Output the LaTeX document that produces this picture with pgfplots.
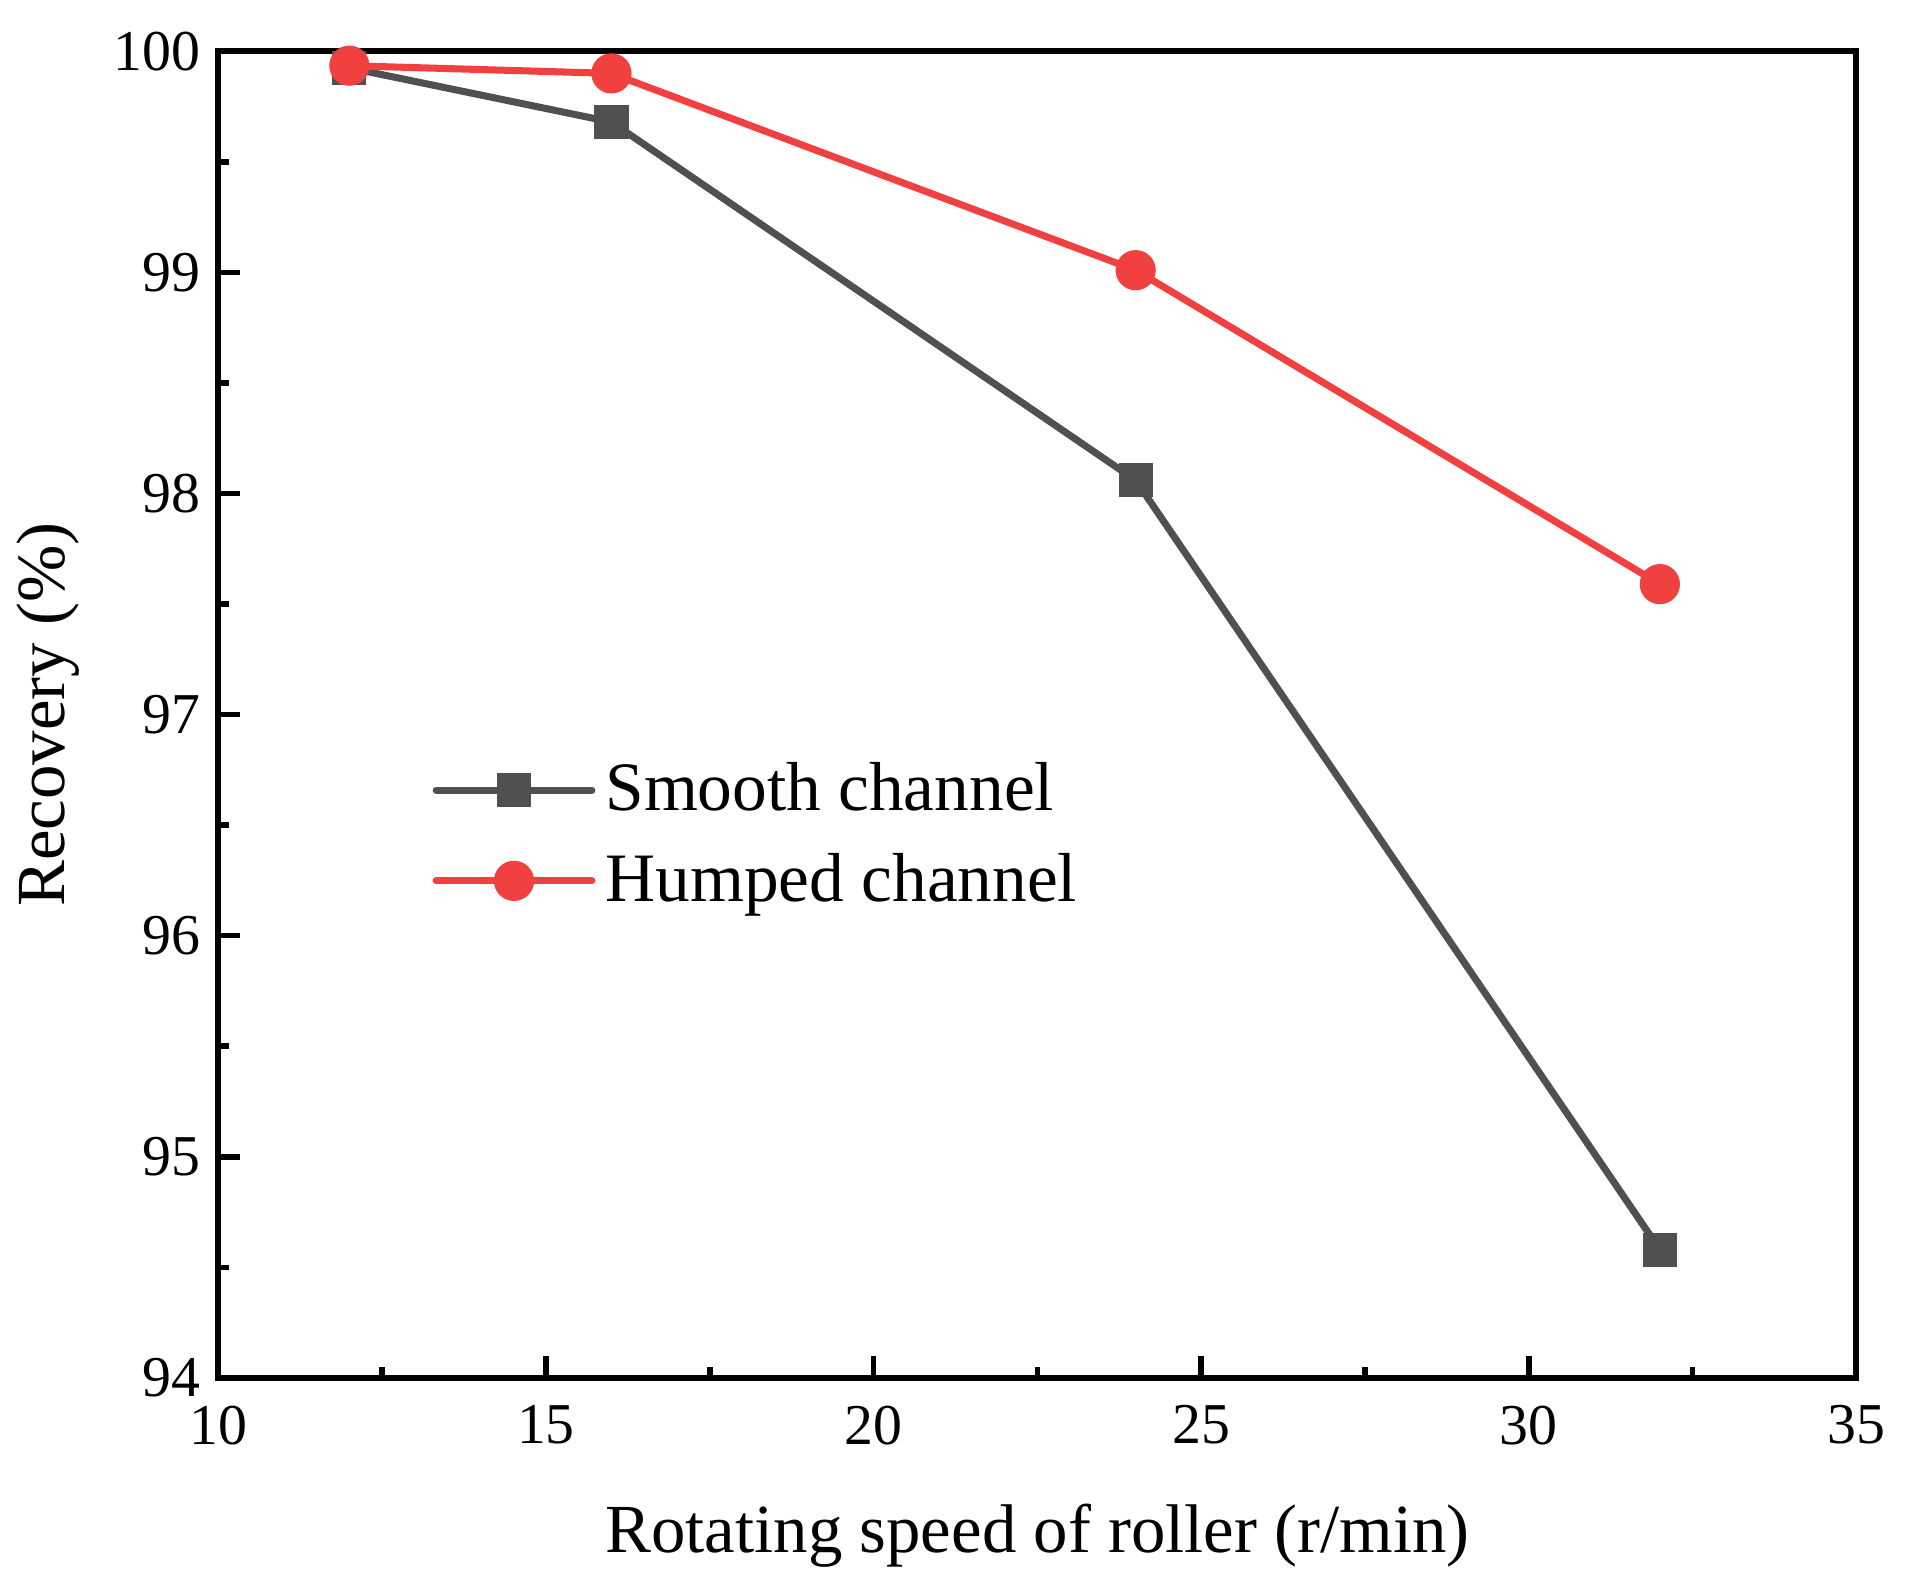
\documentclass[border=0pt]{standalone}
\usepackage{pgfplots}
\pgfplotsset{compat=1.18}
\usepackage{fontspec}
\setmainfont{Liberation Serif}
\definecolor{smoothgray}{RGB}{80,80,80}
\definecolor{humpred}{RGB}{240,64,64}
\begin{document}
\begin{tikzpicture}
\begin{axis}[
    scale only axis,
    width=326pt, height=264pt,
    xmin=10, xmax=35, ymin=94, ymax=100,
    xtick={10,15,...,35}, ytick={94,95,...,100},
    minor x tick num=1, minor y tick num=1,
    tick pos=left, tick align=inside,
    major tick length=4.4pt, minor tick length=2.2pt,
    every tick/.style={black, line width=1.1pt},
    axis line style={line width=1.2pt},
    /pgf/number format/assume math mode=true,
    ticklabel style={font=\fontsize{11.5}{13}\selectfont},
    xticklabel style={yshift=-2pt},
    xlabel={Rotating speed of roller (r/min)},
    ylabel={Recovery (\%)},
    label style={font=\fontsize{13.7}{16}\selectfont},
    xlabel style={yshift=-5pt},
    ylabel style={yshift=0pt},
    legend cell align=left,
    legend style={at={(rel axis cs:0.121,0.48)}, anchor=north west,
        draw=none, fill=none, font=\fontsize{13.8}{16}\selectfont,
        row sep=3pt},
    legend image code/.code={
        \draw[mark repeat=2, mark phase=2, #1]
            plot coordinates {(0pt,0pt) (15.5pt,0pt) (31pt,0pt)};},
]
\addplot[smoothgray, line width=1.4pt, line cap=round, mark=square*,
    mark size=2.7pt, mark options={solid}]
    coordinates {(12,99.925) (16,99.68) (24,98.06) (32,94.58)};
\addlegendentry{Smooth channel}
\addplot[humpred, line width=1.4pt, line cap=round, mark=*,
    mark size=3.3pt, mark options={solid}]
    coordinates {(12,99.935) (16,99.90) (24,99.01) (32,97.59)};
\addlegendentry{Humped channel}
\coordinate (bl) at (rel axis cs:-0.1265,-0.1587);
\coordinate (tr) at (rel axis cs:1.0376,1.0387);
\end{axis}
\path (bl) rectangle (tr);
\end{tikzpicture}
\end{document}
